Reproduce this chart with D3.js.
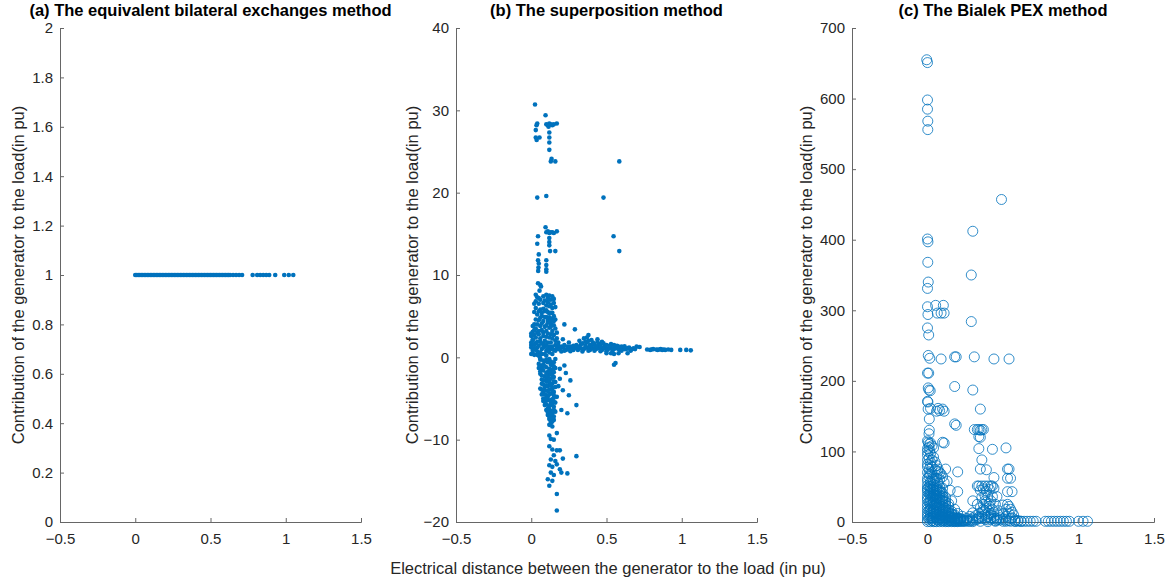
<!DOCTYPE html>
<html>
<head>
<meta charset="utf-8">
<script src="https://cdn.jsdelivr.net/npm/d3@7"></script>
<style>
  body { margin: 0; background: #fff; }
  svg { font-family: "Liberation Sans", Arial, sans-serif; }
</style>
</head>
<body>
<div id="chart"></div>
<script>
// tick labels for each panel
const xTicks = [-0.5, 0, 0.5, 1, 1.5];
const yTicksA = [0, 0.2, 0.4, 0.6, 0.8, 1, 1.2, 1.4, 1.6, 1.8, 2];
const yTicksB = [-20, -10, 0, 10, 20, 30, 40];
const yTicksC = [0, 100, 200, 300, 400, 500, 600, 700];

const titles = [
  "(a) The equivalent bilateral exchanges method",
  "(b) The superposition method",
  "(c) The Bialek PEX method"
];

// (a) every pair has a contribution of 1 pu
const dataA = [
  [0,1],[0.01,1],[0.02,1],[0.03,1],[0.04,1],[0.05,1],[0.06,1],[0.07,1],[0.08,1],[0.09,1],
  [0.1,1],[0.11,1],[0.12,1],[0.13,1],[0.14,1],[0.15,1],[0.16,1],[0.17,1],[0.18,1],[0.19,1],
  [0.2,1],[0.21,1],[0.22,1],[0.23,1],[0.24,1],[0.25,1],[0.26,1],[0.27,1],[0.28,1],[0.29,1],
  [0.3,1],[0.31,1],[0.32,1],[0.33,1],[0.34,1],[0.35,1],[0.36,1],[0.37,1],[0.38,1],[0.39,1],
  [0.4,1],[0.41,1],[0.42,1],[0.43,1],[0.44,1],[0.45,1],[0.46,1],[0.47,1],[0.48,1],[0.49,1],
  [0.5,1],[0.51,1],[0.52,1],[0.53,1],[0.54,1],[0.55,1],[0.56,1],[0.57,1],[0.58,1],[0.59,1],
  [0.6,1],[0.61,1],[0.62,1],[0.63,1],[0.65,1],[0.67,1],[0.69,1],[0.71,1],
  [0.78,1],[0.81,1],[0.83,1],[0.85,1],[0.87,1],[0.89,1],[0.93,1],
  [0.99,1],[1.02,1],[1.05,1]
];

// (b) superposition contributions
const dataB = [
  [0.025,30.7],[0.095,29.4],[0.03,27.6],[0.035,28.2],[0.04,28.4],[0.03,26.7],[0.036,26.4],[0.055,26.7],
  [0.10,28.3],[0.11,28.2],[0.12,28.4],[0.13,28.3],[0.14,28.2],[0.15,28.3],[0.17,28.4],[0.115,28.0],
  [0.12,27.3],[0.12,26.7],[0.12,26.1],[0.12,25.2],[0.13,23.8],[0.135,24.1],[0.16,23.8],[0.585,23.8],
  [0.04,19.4],[0.1,19.6],[0.48,19.4],
  [0.095,15.8],[0.10,15.2],[0.11,15.3],[0.12,15.1],[0.13,15.2],[0.14,15.2],[0.15,15.1],[0.17,15.3],
  [0.045,14.7],[0.04,13.8],[0.12,14.5],[0.12,14.0],[0.12,13.6],[0.125,12.9],[0.16,12.9],[0.547,14.7],[0.585,12.9],
  [0.05,12.5],[0.045,11.8],[0.05,11.4],[0.1,11.8],[0.1,11.2],[0.048,10.9],[0.046,10.5],[0.1,10.7],[0.1,10.4],
  [0.045,9.0],[0.06,8.8],[0.065,8.6],[0.055,8.1],
  [0.03,7.6],[0.04,7.3],[0.06,7.0],[0.1,7.6],[0.12,7.5],[0.14,7.4],[0.11,7.2],[0.13,7.0],[0.15,7.1],
  [0.03,6.8],[0.05,6.5],[0.08,6.6],[0.1,6.3],[0.12,6.2],[0.14,6.0],[0.16,6.1],[0.03,6.0],[0.06,5.8],
  [0.09,5.6],[0.11,5.5],[0.13,5.4],[0.04,5.2],[0.07,5.0],[0.1,4.9],[0.12,4.8],[0.14,4.7],[0.16,4.6],
  [0.05,4.5],[0.08,4.4],[0.11,4.2],[0.13,4.1],[0.02,4.0],[0.15,3.9],[0.06,3.8],[0.09,3.7],[0.12,3.6],
  [0.03,3.5],[0.07,3.3],[0.1,3.2],[0.14,3.2],[0.01,3.1],[0.04,3.0],[0.17,3.0],
  [0.02,6.5],[0.05,7.2],[0.08,7.4],[0.09,6.9],[0.11,6.7],[0.13,6.4],[0.15,6.6],[0.02,5.5],[0.05,5.6],
  [0.07,5.4],[0.08,5.9],[0.1,5.7],[0.12,5.3],[0.14,5.4],[0.15,5.0],[0.03,4.6],[0.06,4.8],[0.09,4.9],
  [0.11,4.6],[0.13,4.5],[0.15,4.4],[0.01,3.8],[0.04,4.0],[0.07,4.1],[0.1,3.9],[0.13,3.7],[0.16,3.5],
  [0.02,3.3],[0.05,3.2],[0.08,3.0],[0.11,2.9],[0.13,2.8],[0.15,2.7],[0.0,2.9],[0.02,2.7],[0.05,2.8],
  [0.08,2.6],[0.1,2.5],[0.14,2.3],[0.16,2.0],[0.18,1.8],[0.17,2.3],[0.01,2.0],[0.03,1.7],[0.06,1.9],
  [0.08,1.6],[0.11,1.8],[0.12,1.3],[0.16,1.5],[0.0,1.5],[0.02,1.0],[0.04,1.2],[0.07,1.0],[0.09,1.3],
  [0.1,0.8],[0.13,1.0],[0.16,0.8],[0.01,0.5],[0.04,0.3],[0.07,0.4],[0.1,0.2],[0.14,0.4],
  [0.22,4.0],[0.29,3.4],[0.38,2.7],[0.21,2.2],[0.25,1.8],
  [0.0,2.6],[0.01,2.2],[0.0,1.8],[0.02,1.5],[0.0,1.2],[0.01,0.8],[0.03,2.4],[0.04,1.9],[0.05,1.4],
  [0.03,1.0],[0.06,2.3],[0.07,1.7],[0.08,1.2],[0.06,0.6],[0.09,2.0],[0.1,1.5],[0.11,1.0],[0.12,2.4],
  [0.13,1.8],[0.14,1.3],[0.15,0.9],[0.02,0.3],[0.05,0.2],[0.09,0.4],[0.12,0.6],[0.0,0.4],[0.04,0.7],
  [0.17,1.1],[0.19,1.0],[0.21,1.2],[0.23,0.9],[0.25,1.1],[0.27,1.0],[0.29,1.2],[0.31,0.9],[0.33,1.1],
  [0.35,1.0],[0.37,1.2],[0.39,0.9],[0.41,1.1],[0.43,1.0],[0.45,1.2],[0.47,0.9],[0.49,1.1],[0.51,1.0],
  [0.53,1.2],[0.55,1.0],[0.57,1.1],[0.59,0.9],[0.61,1.1],[0.63,1.0],[0.65,1.2],[0.67,1.0],[0.70,1.3],[0.72,1.25],
  [0.18,1.0],[0.2,1.3],[0.22,0.8],[0.24,1.0],[0.26,1.3],[0.28,0.9],[0.3,1.1],[0.32,1.3],[0.34,1.0],
  [0.36,1.2],[0.38,1.1],[0.4,1.3],[0.42,1.0],[0.44,1.1],[0.46,1.0],[0.48,1.2],[0.5,1.0],[0.52,1.1],
  [0.54,1.0],[0.56,1.2],[0.58,1.0],[0.6,1.1],[0.62,1.0],[0.64,1.1],[0.66,0.9],[0.68,1.1],[0.69,1.0],
  [0.33,1.6],[0.38,2.0],[0.41,1.8],[0.45,1.6],[0.47,1.9],[0.49,1.4],[0.36,1.9],[0.4,1.5],[0.53,1.6],
  [0.57,1.4],[0.6,1.3],[0.44,2.2],[0.37,2.4],
  [0.18,1.4],[0.2,0.7],[0.22,1.5],[0.24,1.3],[0.26,0.75],[0.28,1.4],[0.34,0.7],[0.38,0.8],[0.42,0.8],
  [0.46,0.75],[0.5,0.75],[0.54,0.8],[0.6,0.8],[0.66,0.8],
  [0.32,2.0],[0.34,1.7],[0.35,2.3],[0.37,1.8],[0.39,1.5],[0.4,2.1],[0.42,1.6],[0.44,1.9],[0.46,1.4],
  [0.48,1.7],[0.5,1.5],[0.3,1.5],[0.36,1.4],[0.43,1.35],[0.52,1.4],[0.55,1.5],[0.58,1.3],[0.62,1.35],
  [0.77,0.95],[0.79,0.9],[0.8,0.95],[0.81,1.0],[0.83,0.95],[0.84,0.9],[0.85,0.95],[0.86,1.0],[0.87,0.9],
  [0.88,0.95],[0.89,0.9],[0.91,0.95],[0.93,0.9],[0.99,0.9],[1.03,0.9],[1.06,0.85],
  [0.5,0.5],[0.53,0.5],[0.55,0.4],[0.58,0.5],[0.64,0.5],[0.55,-0.9],[0.56,-0.7],
  [0.06,-0.3],[0.09,-0.5],[0.12,-0.2],[0.15,-0.6],[0.07,-1.0],[0.1,-1.2],[0.13,-0.9],[0.16,-1.3],
  [0.08,-1.6],[0.11,-1.8],[0.14,-1.5],[0.06,-2.0],[0.09,-2.3],[0.12,-2.1],[0.15,-2.4],[0.07,-2.7],
  [0.1,-2.9],[0.13,-2.6],[0.16,-3.0],[0.08,-3.3],[0.11,-3.5],[0.14,-3.2],[0.06,-3.8],[0.09,-4.0],
  [0.12,-3.9],[0.15,-4.2],[0.07,-4.5],[0.1,-4.6],[0.13,-4.4],[0.17,-4.8],[0.08,-5.0],[0.11,-5.2],
  [0.14,-5.1],[0.16,-5.5],[0.09,-5.8],[0.12,-5.9],[0.15,-6.0],[0.1,-6.4],[0.13,-6.5],[0.16,-6.6],
  [0.11,-7.0],[0.14,-7.1],[0.12,-7.5],[0.15,-7.6],[0.13,-8.0],[0.14,-8.4],
  [0.05,-0.8],[0.08,-0.9],[0.11,-0.6],[0.14,-1.0],[0.07,-1.4],[0.13,-1.9],[0.1,-2.5],[0.12,-3.1],
  [0.09,-3.6],[0.14,-3.7],[0.08,-4.2],[0.11,-4.8],[0.15,-4.9],[0.09,-5.4],[0.13,-5.6],[0.11,-6.2],
  [0.14,-6.8],[0.12,-7.2],[0.13,-7.8],
  [0.06,-0.1],[0.08,-0.4],[0.1,-0.3],[0.13,-0.5],[0.16,-0.2],[0.05,-1.3],[0.09,-1.1],[0.12,-1.4],
  [0.15,-1.1],[0.06,-1.7],[0.1,-1.9],[0.12,-1.7],[0.15,-1.8],[0.07,-2.2],[0.11,-2.4],[0.14,-2.2],
  [0.08,-2.8],[0.12,-2.7],[0.15,-2.9],[0.07,-3.2],[0.1,-3.4],[0.13,-3.4],[0.16,-3.6],[0.07,-3.9],
  [0.11,-4.1],[0.14,-4.0],[0.09,-4.5],[0.12,-4.5],[0.15,-4.6],[0.08,-5.3],[0.1,-5.0],[0.13,-5.2],
  [0.15,-5.4],[0.1,-5.7],[0.14,-5.8],[0.12,-6.3],[0.15,-6.4],[0.11,-6.7],[0.13,-6.9],[0.15,-7.2],
  [0.13,-7.4],[0.14,-7.8],[0.12,-8.2],
  [0.22,-1.0],[0.23,-1.9],[0.26,-2.8],[0.19,-2.6],[0.21,-4.0],[0.25,-4.6],[0.3,-5.8],[0.24,-6.8],
  [0.2,-6.4],[0.18,-3.5],[0.19,-1.4],
  [0.12,-9.5],[0.13,-9.9],[0.15,-10.0],[0.17,-9.2],[0.12,-10.8],[0.14,-11.2],[0.17,-11.3],[0.19,-11.3],
  [0.15,-11.9],[0.13,-12.4],[0.16,-12.6],[0.12,-13.1],[0.14,-13.3],[0.17,-13.0],[0.19,-13.6],[0.13,-14.0],
  [0.15,-14.3],[0.2,-14.0],[0.11,-14.8],[0.14,-15.0],[0.12,-15.6],[0.3,-12.0],[0.24,-14.1],[0.17,-16.6],
  [0.17,-18.6],[0.21,-12.3]
];

// (c) Bialek proportional sharing contributions
const dataC = [
  [-0.005,655],[0.0,651],[0.0,598],[0.0,585],[0.002,568],[0.002,556],[0.49,457],[0.0,401],[0.003,397],
  [0.002,368],[0.30,412],[0.005,340],[0.0,331],[0.29,350],
  [0.0,305],[0.003,294],[0.054,307],[0.105,307],[0.065,296],[0.09,296],[0.11,296],[0.29,284],[0.0,275],[0.008,265],
  [0.005,236],[0.015,232],[0.09,231],[0.18,234],[0.19,234],[0.31,234],[0.44,231],[0.54,231],
  [0.0,211],[0.008,211],[0.005,190],[0.01,187],[0.018,186],[0.18,192],[0.3,187],
  [0.0,171],[0.003,170],[0.004,160],[0.06,157],[0.1,160],[0.11,157],[0.35,160],[0.02,161],[0.07,161],[0.08,158],
  [0.012,146],[0.012,130],[0.01,125],[0.18,139],[0.19,137],[0.31,131],[0.33,131],[0.34,131],[0.35,130],
  [0.36,131],[0.37,131],[0.34,121],[0.35,120],
  [0.0,115],[0.005,113],[0.01,110],[0.02,112],[0.03,108],[0.0,104],[0.015,101],[0.1,113],[0.11,112],
  [0.04,105],[0.43,103],[0.52,105],[0.34,104],
  [0.36,88],[0.35,75],[0.39,74],[0.53,75],[0.54,75],[0.53,62],[0.55,62],[0.44,63],[0.2,71],[0.2,43],
  [0.53,43],[0.56,43],
  [0.33,51],[0.34,51],[0.36,51],[0.38,51],[0.40,51],[0.42,51],[0.43,51],[0.3,30],[0.53,25],[0.54,22],
  [0.0,95],[0.01,90],[0.02,85],[0.0,82],[0.03,78],[0.01,75],[0.05,74],[0.07,72],[0.0,70],[0.02,68],
  [0.04,65],[0.06,62],[0.08,60],[0.0,58],[0.02,55],[0.04,53],[0.06,51],[0.08,50],[0.1,48],[0.0,46],
  [0.02,44],[0.04,42],[0.06,40],[0.08,38],[0.1,36],[0.12,35],[0.0,34],[0.02,32],[0.04,30],[0.06,28],
  [0.08,27],[0.1,25],[0.12,24],[0.14,22],[0.0,22],[0.02,20],[0.04,18],[0.06,17],[0.08,15],[0.1,14],
  [0.12,13],[0.14,12],[0.16,11],[0.0,10],[0.02,9],[0.04,8],[0.06,7],[0.08,6],[0.1,5],[0.12,5],
  [0.14,4],[0.16,4],[0.18,3],[0.2,3],[0.22,2],[0.24,2],[0.0,3],[0.03,2],[0.05,1],[0.09,2],
  [0.13,8],[0.15,7],[0.17,6],[0.19,5],[0.21,4],[0.11,20],[0.09,31],[0.05,45],[0.03,60],[0.01,64],
  [0.07,55],[0.03,88],[0.05,85],[0.07,75],[0.09,68],[0.12,75],[0.13,58],[0.15,45],[0.16,30],[0.18,18],
  [0.2,12],[0.23,8],
  [0.0,100],[0.01,106],[0.02,97],[0.0,88],[0.02,80],[0.0,78],[0.01,68],[0.03,70],[0.0,62],[0.02,58],
  [0.04,58],[0.05,62],[0.06,66],[0.08,70],[0.04,92],[0.06,80],[0.1,64],[0.11,56],
  [0.01,50],[0.03,47],[0.05,38],[0.07,44],[0.09,42],[0.01,40],[0.03,36],[0.05,33],[0.07,34],[0.09,22],
  [0.01,28],[0.03,25],[0.05,24],[0.07,21],[0.11,29],[0.01,16],[0.03,14],[0.05,12],[0.07,11],[0.09,10],
  [0.11,9],[0.01,5],[0.03,6],[0.07,3],[0.11,2],[0.13,1],[0.15,2],[0.17,1],[0.19,1],[0.21,1],[0.23,1],
  [0.0,52],[0.02,50],[0.04,49],[0.06,46],[0.08,45],[0.0,48],[0.02,47],[0.04,46],[0.06,44],[0.08,42],
  [0.1,41],[0.0,43],[0.02,41],[0.04,39],[0.06,38],[0.08,35],[0.1,33],[0.12,30],[0.0,38],[0.02,37],
  [0.04,35],[0.06,34],[0.08,32],[0.1,30],[0.12,28],[0.14,26],[0.0,31],[0.02,29],[0.04,27],[0.06,25],
  [0.08,23],[0.1,21],[0.12,19],[0.14,17],[0.16,15],[0.0,26],[0.02,24],[0.04,22],[0.06,21],[0.08,19],
  [0.1,18],[0.12,16],[0.14,14],[0.16,12],[0.18,10],[0.0,18],[0.02,17],[0.04,15],[0.06,14],[0.08,12],
  [0.1,11],[0.12,10],[0.14,9],[0.16,8],[0.18,7],[0.2,6],[0.22,5],[0.0,14],[0.02,12],[0.04,11],
  [0.06,10],[0.08,9],[0.1,8],[0.12,7],[0.14,7],[0.16,6],[0.18,5],[0.2,5],[0.22,4],[0.24,3],[0.26,3],
  [0.0,7],[0.02,6],[0.04,5],[0.06,4],[0.08,4],[0.1,3],[0.12,3],[0.14,2],[0.16,2],[0.18,2],[0.2,2],
  [0.22,1],[0.24,1],[0.26,2],[0.28,1],[0.0,0.5],[0.02,0.5],[0.04,0.5],[0.06,0.5],[0.08,0.5],[0.1,0.5],
  [0.12,0.5],[0.14,0.5],[0.16,0.5],[0.18,0.5],[0.2,0.5],
  [0.28,3],[0.3,6],[0.32,9],[0.34,12],[0.36,14],[0.38,16],[0.4,12],[0.42,10],[0.44,8],[0.46,5],
  [0.48,3],[0.3,2],[0.33,4],[0.36,5],[0.39,7],[0.42,4],[0.45,2],[0.35,20],[0.37,25],[0.39,28],
  [0.41,22],[0.43,18],[0.36,35],[0.38,38],[0.4,36],[0.43,36],[0.46,36],[0.47,16],[0.5,12],[0.52,8],
  [0.55,5],[0.57,10],[0.55,18],[0.56,14],[0.58,3],
  [0.3,4],[0.32,3],[0.34,5],[0.36,8],[0.38,10],[0.4,8],[0.42,6],[0.44,5],[0.46,3],[0.48,6],[0.5,4],
  [0.52,3],[0.54,2],[0.56,6],[0.58,1],[0.6,2],[0.62,1],[0.34,7],[0.38,4],[0.4,3],[0.42,12],[0.44,14],
  [0.37,18],[0.39,20],[0.41,26],[0.45,25],[0.38,30],[0.42,30],[0.33,25],[0.35,45],[0.37,47],[0.39,44],
  [0.41,46],[0.44,48],[0.5,24],[0.52,18],[0.54,12],[0.47,10],[0.3,13],[0.28,8],[0.26,5],
  [0.25,1],[0.27,1],[0.3,0.5],[0.35,1],[0.4,0.5],[0.45,1],[0.5,1],[0.52,1],[0.55,1],[0.58,1],
  [0.6,1],[0.62,1],[0.64,1],[0.66,1],[0.68,1],[0.7,1],[0.72,1],[0.78,1],[0.8,1],[0.82,1],
  [0.84,1],[0.86,1],[0.88,1],[0.9,1],[0.92,1],[0.94,1],[1.0,1],[1.03,1],[1.06,1]
];

const blue = "#0072BD";
const axisColor = "#666";
const textColor = "#262626";

const svg = d3.select("#chart")
  .append("svg")
    .attr("width", 1168)
    .attr("height", 583);

// panel boxes
const panels = [
  {left: 60, right: 361, data: dataA, yDomain: [0, 2], yTicks: yTicksA, labelX: 18, marker: "dot"},
  {left: 456, right: 757, data: dataB, yDomain: [-20, 40], yTicks: yTicksB, labelX: 412, marker: "dot"},
  {left: 852, right: 1154, data: dataC, yDomain: [0, 700], yTicks: yTicksC, labelX: 806, marker: "circle"}
];
const plotTop = 28, plotBottom = 522;

panels.forEach(function(p, i) {
  const x = d3.scaleLinear().domain([-0.5, 1.5]).range([p.left, p.right]);
  const y = d3.scaleLinear().domain(p.yDomain).range([plotBottom, plotTop]);

  const g = svg.append("g");

  // x axis, ticks pointing inward like matlab
  const xAxis = g.append("g")
    .attr("transform", "translate(0," + plotBottom + ")")
    .call(d3.axisBottom(x).tickValues(xTicks).tickSize(-4).tickPadding(8)
      .tickFormat(d3.format("")));
  // y axis
  const yAxis = g.append("g")
    .attr("transform", "translate(" + p.left + ",0)")
    .call(d3.axisLeft(y).tickValues(p.yTicks).tickSize(-4).tickPadding(7)
      .tickFormat(d3.format("")));

  [xAxis, yAxis].forEach(function(a) {
    a.select(".domain").attr("stroke", axisColor);
    a.selectAll(".tick line").attr("stroke", axisColor);
    a.selectAll(".tick text")
      .attr("fill", textColor)
      .style("font-size", "15px")
      .style("font-family", "'Liberation Sans', Arial, sans-serif");
  });
  xAxis.selectAll(".tick text").attr("dy", "0.9em");

  // points
  if (p.marker === "dot") {
    g.selectAll("circle.pt")
      .data(p.data)
      .enter()
      .append("circle")
        .attr("class", "pt")
        .attr("cx", function(d) { return x(d[0]); })
        .attr("cy", function(d) { return y(d[1]); })
        .attr("r", 2.3)
        .attr("fill", blue);
  } else {
    g.selectAll("circle.pt")
      .data(p.data)
      .enter()
      .append("circle")
        .attr("class", "pt")
        .attr("cx", function(d) { return x(d[0]); })
        .attr("cy", function(d) { return y(d[1]); })
        .attr("r", 5)
        .attr("fill", "none")
        .attr("stroke", blue)
        .attr("stroke-opacity", 0.8)
        .attr("stroke-width", 1);
  }

  // title (kept just clear of the top tick label)
  g.append("text")
    .attr("x", (p.left + p.right) / 2)
    .attr("y", 16)
    .attr("text-anchor", "middle")
    .attr("font-size", "16.5px")
    .attr("font-weight", "bold")
    .attr("fill", "#000")
    .text(titles[i]);

  // y label
  g.append("text")
    .attr("transform", "translate(" + p.labelX + "," + ((plotTop + plotBottom) / 2) + ") rotate(-90)")
    .attr("text-anchor", "middle")
    .attr("dy", "0.35em")
    .attr("font-size", "16.5px")
    .attr("fill", textColor)
    .text("Contribution of the generator to the load(in pu)");
});

// shared x label
svg.append("text")
  .attr("x", 608)
  .attr("y", 574)
  .attr("text-anchor", "middle")
  .attr("font-size", "16.5px")
  .attr("fill", textColor)
  .text("Electrical distance between the generator to the load (in pu)");
</script>
</body>
</html>
